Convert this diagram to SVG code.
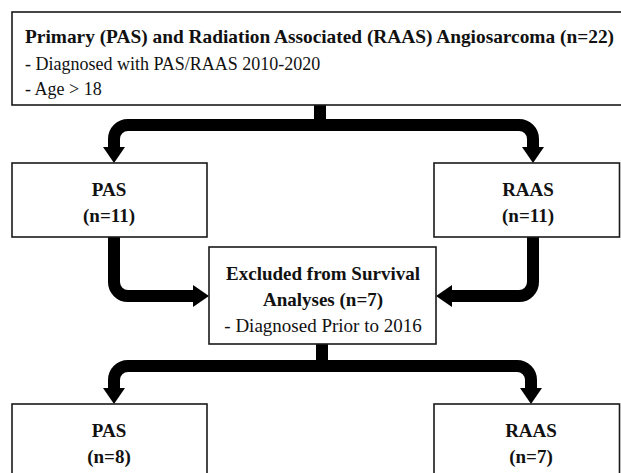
<svg xmlns="http://www.w3.org/2000/svg" width="621" height="473" viewBox="0 0 621 473">
<style>
.box{fill:#fff;stroke:#1a1a1a;stroke-width:1.6}
.b{font-family:"Liberation Serif","Times New Roman",serif;font-weight:bold;font-size:19px;fill:#111}
.r{font-family:"Liberation Serif","Times New Roman",serif;font-size:18px;fill:#111}
.r19{font-family:"Liberation Serif","Times New Roman",serif;font-size:19px;fill:#111}
.c{text-anchor:middle}
.con{fill:none;stroke:#000;stroke-width:12;stroke-linejoin:round}
</style>
<defs>
<marker id="ah" viewBox="0 0 16 22" refX="0" refY="11" markerWidth="16" markerHeight="22" markerUnits="userSpaceOnUse" orient="auto">
<path d="M0,0 L16,11 L0,22 Z" fill="#000"/>
</marker>
</defs>
<rect width="621" height="473" fill="#fff"/>
<g id="connectors">
<path class="con" d="M320,105 V125 H128 A14,14 0 0 0 114,139 V147" marker-end="url(#ah)"/>
<path class="con" d="M320,125 H519 A14,14 0 0 1 533,139 V147" marker-end="url(#ah)"/>
<path class="con" d="M114,237 V282 A14,14 0 0 0 128,296 H193" marker-end="url(#ah)"/>
<path class="con" d="M533,237 V282 A14,14 0 0 1 519,296 H452" marker-end="url(#ah)"/>
<path class="con" d="M322,344 V366 H128 A14,14 0 0 0 114,380 V388" marker-end="url(#ah)"/>
<path class="con" d="M322,366 H517 A14,14 0 0 1 531,380 V388" marker-end="url(#ah)"/>
</g>
<g id="top">
<rect class="box" x="12" y="12" width="612" height="93"/>
<text class="b" x="25" y="43" textLength="589" lengthAdjust="spacingAndGlyphs">Primary (PAS) and Radiation Associated (RAAS) Angiosarcoma (n=22)</text>
<text class="r" x="25" y="70">- Diagnosed with PAS/RAAS 2010-2020</text>
<text class="r" x="25" y="95">- Age &gt; 18</text>
</g>
<g id="pas1">
<rect class="box" x="12" y="163" width="195" height="74"/>
<text class="b c" x="109" y="196">PAS</text>
<text class="b c" x="109" y="222">(n=11)</text>
</g>
<g id="raas1">
<rect class="box" x="434" y="163" width="185.5" height="74"/>
<text class="b c" x="528" y="196">RAAS</text>
<text class="b c" x="528" y="222">(n=11)</text>
</g>
<g id="excluded">
<rect class="box" x="209" y="247" width="227" height="97"/>
<text class="b c" x="323" y="280">Excluded from Survival</text>
<text class="b c" x="323" y="306">Analyses (n=7)</text>
<text class="r19 c" x="323" y="332">- Diagnosed Prior to 2016</text>
</g>
<g id="pas2">
<rect class="box" x="12" y="404" width="195" height="80"/>
<text class="b c" x="109" y="437">PAS</text>
<text class="b c" x="109" y="463">(n=8)</text>
</g>
<g id="raas2">
<rect class="box" x="434" y="404" width="185.5" height="80"/>
<text class="b c" x="531" y="437">RAAS</text>
<text class="b c" x="531" y="463">(n=7)</text>
</g>
</svg>
